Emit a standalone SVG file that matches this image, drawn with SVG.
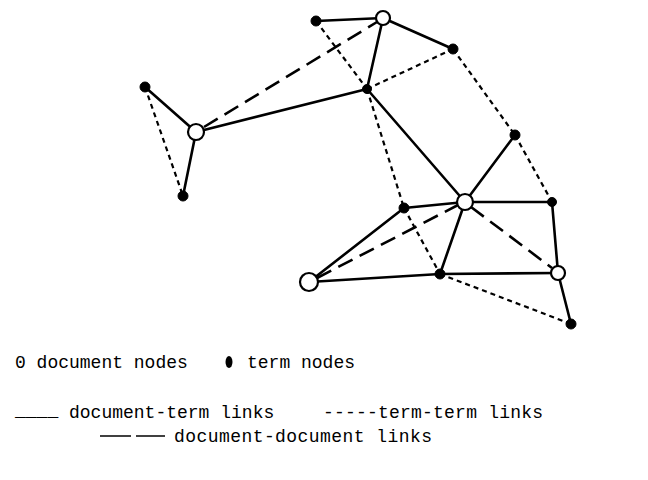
<svg xmlns="http://www.w3.org/2000/svg" width="648" height="480" viewBox="0 0 648 480">
  <style>
    .dt { stroke: #000; stroke-width: 2.6; fill: none; stroke-linecap: round; }
    .tt { stroke: #000; stroke-width: 2.2; fill: none; stroke-dasharray: 5 4; }
    .dd { stroke: #000; stroke-width: 2.6; fill: none; stroke-dasharray: 16 8; }
    .doc { fill: #fff; stroke: #000; stroke-width: 2.2; }
    .term { fill: #000; stroke: #000; stroke-width: 1; }
    .lbl { font-family: "Liberation Mono", "DejaVu Sans Mono", monospace; font-size: 18px; fill: #000; }
  </style>
  <rect width="648" height="480" fill="#fff"/>
  <g id="connectors">
    <!-- document-term links -->
    <line class="dt" x1="145" y1="87" x2="196" y2="132"/>
    <line class="dt" x1="196" y1="132" x2="183" y2="196"/>
    <line class="dt" x1="196" y1="132" x2="367" y2="89"/>
    <line class="dt" x1="316" y1="21" x2="383" y2="18"/>
    <line class="dt" x1="383" y1="18" x2="367" y2="89"/>
    <line class="dt" x1="383" y1="18" x2="453" y2="49"/>
    <line class="dt" x1="367" y1="89" x2="465" y2="202"/>
    <line class="dt" x1="465" y1="202" x2="515" y2="135"/>
    <line class="dt" x1="465" y1="202" x2="404" y2="208"/>
    <line class="dt" x1="465" y1="202" x2="552" y2="202"/>
    <line class="dt" x1="465" y1="202" x2="440" y2="274"/>
    <line class="dt" x1="404" y1="208" x2="309" y2="282"/>
    <line class="dt" x1="309" y1="282" x2="440" y2="274"/>
    <line class="dt" x1="440" y1="274" x2="558" y2="273"/>
    <line class="dt" x1="552" y1="202" x2="558" y2="273"/>
    <line class="dt" x1="558" y1="273" x2="571" y2="324"/>
    <!-- term-term links -->
    <line class="tt" x1="145" y1="87" x2="183" y2="196"/>
    <line class="tt" x1="316" y1="21" x2="367" y2="89"/>
    <line class="tt" x1="367" y1="89" x2="453" y2="49"/>
    <line class="tt" x1="367" y1="89" x2="404" y2="208"/>
    <line class="tt" x1="404" y1="208" x2="440" y2="274"/>
    <line class="tt" x1="453" y1="49" x2="515" y2="135"/>
    <line class="tt" x1="515" y1="135" x2="552" y2="202"/>
    <line class="tt" x1="440" y1="274" x2="571" y2="324"/>
    <!-- document-document links -->
    <line class="dd" x1="204" y1="127" x2="377" y2="22"/>
    <line class="dd" x1="317" y1="278" x2="458" y2="205"/>
    <line class="dd" x1="471" y1="207" x2="552" y2="268"/>
  </g>
  <g id="T1"><circle class="term" cx="145" cy="87" r="5"/></g>
  <g id="T2"><circle class="term" cx="183" cy="196" r="5"/></g>
  <g id="T3"><circle class="term" cx="316" cy="21" r="5"/></g>
  <g id="T4"><circle class="term" cx="367" cy="89" r="4.5"/></g>
  <g id="T5"><circle class="term" cx="453" cy="49" r="5"/></g>
  <g id="T6"><circle class="term" cx="515" cy="135" r="5"/></g>
  <g id="T7"><circle class="term" cx="404" cy="208" r="5"/></g>
  <g id="T8"><circle class="term" cx="552" cy="202" r="4.5"/></g>
  <g id="T9"><circle class="term" cx="440" cy="274" r="5"/></g>
  <g id="T10"><circle class="term" cx="571" cy="324" r="5"/></g>
  <g id="D1"><circle class="doc" cx="196" cy="132" r="8"/></g>
  <g id="D2"><circle class="doc" cx="383" cy="18" r="7"/></g>
  <g id="D3"><circle class="doc" cx="465" cy="202" r="8"/></g>
  <g id="D4"><circle class="doc" cx="309" cy="282" r="9"/></g>
  <g id="D5"><circle class="doc" cx="558" cy="273" r="7"/></g>
  <g id="legend">
    <text class="lbl" x="15" y="368">0 document nodes</text>
    <ellipse cx="229" cy="362" rx="3.5" ry="6" fill="#000"/>
    <text class="lbl" x="247" y="368">term nodes</text>
    <text class="lbl" x="15" y="416">____</text>
    <text class="lbl" x="69" y="418">document-term links</text>
    <text class="lbl" x="323" y="418" textLength="220" lengthAdjust="spacing">-----term-term links</text>
    <line x1="100" y1="436" x2="131" y2="436" stroke="#000" stroke-width="1.5"/>
    <line x1="136" y1="436" x2="165" y2="436" stroke="#000" stroke-width="1.5"/>
    <text class="lbl" x="174" y="442" textLength="258" lengthAdjust="spacing">document-document links</text>
  </g>
</svg>
